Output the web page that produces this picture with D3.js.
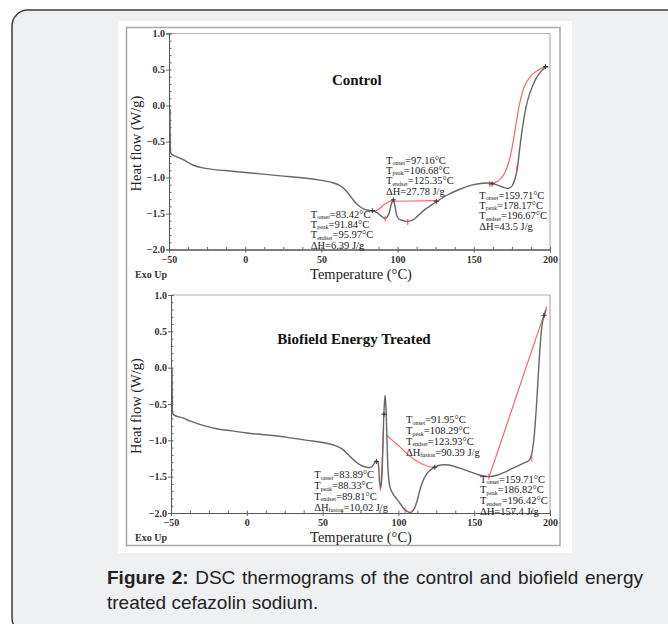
<!DOCTYPE html>
<html lang="en">
<head>
    <meta charset="UTF-8">
    <script src="https://d3js.org/d3.v7.min.js"></script>
    <title>DSC thermograms of cefazolin sodium</title>
    <style>
        body { margin: 0; background: #fff; }
        svg { display: block; }
        .tick-label { font-family: "Liberation Serif", serif; font-size: 10px; font-weight: bold; fill: #333; }
        .note { font-family: "Liberation Serif", serif; font-size: 10.5px; fill: #222; }
        .axis-title { font-family: "Liberation Serif", serif; font-size: 14.5px; fill: #222; }
        .panel-title { font-family: "Liberation Serif", serif; font-size: 15px; font-weight: bold; fill: #111; }
        .caption { font-family: "Liberation Sans", Arial, sans-serif; font-size: 19px; fill: #222; }
    </style>
</head>
<body>
<svg width="668" height="624"></svg>
<script>
    // ---- data: [temperature °C, heat flow W/g] ----
    const xTicks = [-50, 0, 50, 100, 150, 200];
    const yTicks = [1.0, 0.5, 0.0, -0.5, -1.0, -1.5, -2.0];

    const controlCurve = [
        [-49.3, -0.05], [-49.1, -0.55], [-48.6, -0.67], [-45, -0.71], [-40, -0.76], [-34, -0.83],
        [-27, -0.87], [-20, -0.89], [-10, -0.91], [0, -0.93], [10, -0.95], [20, -0.97],
        [30, -0.99], [40, -1.01], [50, -1.04], [57, -1.07], [62, -1.11], [66, -1.18],
        [69, -1.26], [72, -1.34], [75, -1.40], [78, -1.44], [82, -1.46], [86, -1.48],
        [89, -1.53], [92, -1.57], [94, -1.52], [96, -1.36], [97.2, -1.31], [98.3, -1.40],
        [99.5, -1.53], [101, -1.58], [104, -1.60], [107, -1.61], [110, -1.59], [113, -1.54],
        [117, -1.46], [121, -1.40], [126, -1.33], [132, -1.25], [140, -1.17], [148, -1.11],
        [156, -1.08], [162, -1.08], [166, -1.11], [170, -1.14], [173, -1.15], [175, -1.12],
        [177, -1.02], [178.5, -0.88], [180, -0.62], [182, -0.30], [184, -0.05], [186, 0.12],
        [188, 0.24], [191, 0.38], [194, 0.47], [197, 0.53], [199, 0.54]
    ];
    const controlFits = [
        [[83.4, -1.47], [87, -1.45], [91, -1.38], [94, -1.34], [97.2, -1.31]],
        [[97.2, -1.33], [125.4, -1.32]],
        [[159.7, -1.09], [164, -1.07], [167, -1.03], [170, -0.95], [172, -0.85], [174, -0.70],
         [176, -0.48], [178, -0.22], [180, 0.02], [183, 0.25], [187, 0.40], [192, 0.49], [197, 0.54]]
    ];
    const controlRedTicks = [[91.8, -1.57], [106.7, -1.62], [178.2, -0.88], [160.5, -1.09]];
    const controlMarks = [[83.4, -1.46], [97.2, -1.31], [125.4, -1.33], [162, -1.09], [197, 0.54]];

    const treatedCurve = [
        [-49.3, 0.0], [-49.1, -0.45], [-48.6, -0.64], [-46, -0.67], [-42, -0.69], [-38, -0.73],
        [-31, -0.78], [-20, -0.84], [-10, -0.87], [0, -0.90], [10, -0.92], [20, -0.94],
        [30, -0.97], [40, -1.00], [50, -1.03], [58, -1.07], [63, -1.12], [67, -1.20],
        [71, -1.28], [75, -1.34], [79, -1.37], [82, -1.37], [84, -1.32], [85.5, -1.28],
        [86.5, -1.30], [87.5, -1.55], [88.3, -1.66], [89, -1.55], [89.8, -1.05], [90.5, -0.60],
        [91.2, -0.38], [91.8, -0.55], [92.5, -1.00], [93.3, -1.45], [94.5, -1.65], [96.5, -1.74],
        [99, -1.81], [101.5, -1.88], [104, -1.95], [106, -1.98], [108.3, -1.99], [110.5, -1.94],
        [112.5, -1.82], [114.5, -1.66], [117, -1.52], [120, -1.43], [124, -1.37], [128, -1.34],
        [133, -1.34], [140, -1.38], [147, -1.43], [154, -1.48], [160, -1.50], [165, -1.48],
        [170, -1.44], [176, -1.38], [182, -1.32], [186, -1.28], [187.5, -1.22], [189, -1.05],
        [190.5, -0.70], [192, -0.20], [193.5, 0.30], [195, 0.62], [196.5, 0.74], [197.5, 0.80]
    ];
    const treatedFits = [
        [[88.5, -1.62], [89.5, -1.20], [90.3, -0.82]],
        [[92, -0.92], [96, -1.00], [101, -1.09], [106, -1.19], [111, -1.27], [116, -1.33],
         [120, -1.36], [124, -1.37]],
        [[159.7, -1.51], [197.8, 0.84]]
    ];
    const treatedRedTicks = [[88, -1.65], [104.4, -1.96], [188, -1.25], [159.7, -1.50]];
    const treatedMarks = [[85.5, -1.29], [90.5, -0.64], [124, -1.37], [196, 0.72]];

    // annotation text: [symbol, subscript, rest]
    const controlNotes = [
        { at: [43.0, -1.558], lines: [["T", "onset", "=83.42°C"], ["T", "peak", "=91.84°C"], ["T", "endset", "=95.97°C"], ["ΔH", "", "=6.39 J/g"]] },
        { at: [92.4, -0.808], lines: [["T", "onset", "=97.16°C"], ["T", "peak", "=106.68°C"], ["T", "endset", "=125.35°C"], ["ΔH", "", "=27.78 J/g"]] },
        { at: [153.6, -1.294], lines: [["T", "onset", "=159.71°C"], ["T", "peak", "=178.17°C"], ["T", "endset", "=196.67°C"], ["ΔH", "", "=43.5 J/g"]] }
    ];
    const treatedNotes = [
        { at: [44.5, -1.525], lines: [["T", "onset", "=83.89°C"], ["T", "peak", "=88.33°C"], ["T", "endset", "=89.81°C"], ["ΔH", "fusion", "=10.02 J/g"]] },
        { at: [105.0, -0.768], lines: [["T", "onset", "=91.95°C"], ["T", "peak", "=108.29°C"], ["T", "endset", "=123.93°C"], ["ΔH", "fusion", "=90.39 J/g"]] },
        { at: [153.8, -1.584], lines: [["T", "onset", "=159.71°C"], ["T", "peak", "=186.82°C"], ["T", "endset", "=196.42°C"], ["ΔH", "", "=157.4 J/g"]] }
    ];

    const captionBold = "Figure 2:";
    const captionLines = [" DSC thermograms of the control and biofield energy", "treated cefazolin sodium."];

    const svg = d3.select('svg');

    // card + white figure area
    svg.append('rect').attr('x', 12).attr('y', 10).attr('width', 700).attr('height', 624)
        .attr('rx', 16).attr('fill', '#eff0f2').attr('stroke', '#3d3d3d').attr('stroke-width', 1.5);
    svg.append('rect').attr('x', 118).attr('y', 21).attr('width', 454).attr('height', 532).attr('fill', '#fff');
    svg.append('rect').attr('x', 126.5).attr('y', 27.5).attr('width', 433.5).attr('height', 518)
        .attr('fill', 'none').attr('stroke', '#a8a8a8').attr('stroke-width', 1.5);

    function drawPanel(p) {
        const x = d3.scaleLinear().domain([-50, 200]).range([p.left, 550]);
        const y = d3.scaleLinear().domain([-2, 1]).range([p.bottom, p.top]);
        const g = svg.append('g');

        // plot frame (top / right light gray)
        g.append('path')
            .attr('d', `M${p.left},${p.top}H550V${p.bottom}`)
            .attr('fill', 'none').attr('stroke', '#b0b0b0').attr('stroke-width', 1.2);

        const xAxis = d3.axisBottom(x).tickValues(xTicks).tickSize(3).tickFormat(d3.format('d'));
        const xMinor = d3.axisBottom(x).tickValues(d3.range(-50, 200.1, 12.5)).tickSize(-2.5).tickFormat('');
        const yAxis = d3.axisLeft(y).tickValues(yTicks).tickSize(3).tickFormat(d3.format('.1f'));
        const yMinor = d3.axisLeft(y).tickValues(d3.range(-2, 1.001, 0.1)).tickSize(-2.5).tickFormat('');

        [xMinor, xAxis].forEach(a => {
            const ax = g.append('g').attr('transform', `translate(0,${p.bottom})`).call(a);
            ax.select('.domain').attr('stroke', '#555');
            ax.selectAll('line').attr('stroke', '#666');
            ax.selectAll('text').attr('class', 'tick-label').attr('dy', '0.71em').attr('y', 6);
        });
        [yMinor, yAxis].forEach(a => {
            const ax = g.append('g').attr('transform', `translate(${p.left},0)`).call(a);
            ax.select('.domain').attr('stroke', '#555');
            ax.selectAll('line').attr('stroke', '#666');
            ax.selectAll('text').attr('class', 'tick-label').attr('x', -4);
        });
        g.selectAll('.tick-label').attr('font-family', null);

        const line = d3.line().x(d => x(d[0])).y(d => y(d[1])).curve(d3.curveCatmullRom.alpha(0.5));

        g.selectAll('.fit').data(p.fits).enter().append('path')
            .attr('d', line).attr('fill', 'none').attr('stroke', '#f26b6b').attr('stroke-width', 1.2);

        g.append('path').datum(p.curve).attr('d', line)
            .attr('fill', 'none').attr('stroke', '#676767').attr('stroke-width', 1.4);

        g.selectAll('.rtick').data(p.redTicks).enter().append('line')
            .attr('x1', d => x(d[0])).attr('x2', d => x(d[0]))
            .attr('y1', d => y(d[1]) - 3).attr('y2', d => y(d[1]) + 3)
            .attr('stroke', '#f04848').attr('stroke-width', 1);

        g.selectAll('.mark').data(p.marks).enter().append('path')
            .attr('d', d => `M${x(d[0]) - 2.5},${y(d[1])}h5M${x(d[0])},${y(d[1]) - 2.5}v5`)
            .attr('stroke', '#333').attr('stroke-width', 1);

        // annotations
        p.notes.forEach(n => {
            n.lines.forEach((ln, i) => {
                const t = g.append('text').attr('class', 'note')
                    .attr('x', x(n.at[0])).attr('y', y(n.at[1]) + i * p.lineGap);
                t.append('tspan').text(ln[0]);
                if (ln[1]) {
                    t.append('tspan').attr('font-size', '6px').attr('dy', 1.5).text(ln[1]);
                    t.append('tspan').attr('dy', -1.5).text(ln[2]);
                } else {
                    t.append('tspan').text(ln[2]);
                }
            });
        });

        g.append('text').attr('class', 'panel-title').attr('text-anchor', 'middle')
            .attr('x', x(p.titleAt[0])).attr('y', y(p.titleAt[1])).text(p.title);

        g.append('text').attr('class', 'axis-title').attr('text-anchor', 'middle')
            .attr('transform', `translate(141,${(p.top + p.bottom) / 2 + 2}) rotate(-90)`)
            .text('Heat flow (W/g)');
        g.append('text').attr('class', 'axis-title').attr('text-anchor', 'middle')
            .attr('x', 361).attr('y', p.bottom + 29).text('Temperature (°C)');
        g.append('text').attr('class', 'tick-label').attr('font-size', '11px')
            .attr('x', 135).attr('y', p.bottom + 28).text('Exo Up');
    }

    drawPanel({
        left: 169, top: 33.5, bottom: 249.5, curve: controlCurve, fits: controlFits,
        redTicks: controlRedTicks, marks: controlMarks, notes: controlNotes, lineGap: 10.3,
        title: 'Control', titleAt: [73.2, 0.28]
    });
    drawPanel({
        left: 171, top: 295, bottom: 513, curve: treatedCurve, fits: treatedFits,
        redTicks: treatedRedTicks, marks: treatedMarks, notes: treatedNotes, lineGap: 10.7,
        title: 'Biofield Energy Treated', titleAt: [70.7, 0.319]
    });

    // caption, first line justified to the column width
    const cap1 = svg.append('text').attr('class', 'caption').attr('x', 107).attr('y', 584);
    cap1.append('tspan').attr('font-weight', 'bold').text(captionBold);
    cap1.append('tspan').text(captionLines[0]);
    const gaps = (captionBold + captionLines[0]).split(' ').length - 1;
    const extra = (643 - 107 - cap1.node().getComputedTextLength()) / gaps;
    cap1.attr('word-spacing', extra);
    svg.append('text').attr('class', 'caption').attr('x', 107).attr('y', 609).text(captionLines[1]);
</script>
</body>
</html>
